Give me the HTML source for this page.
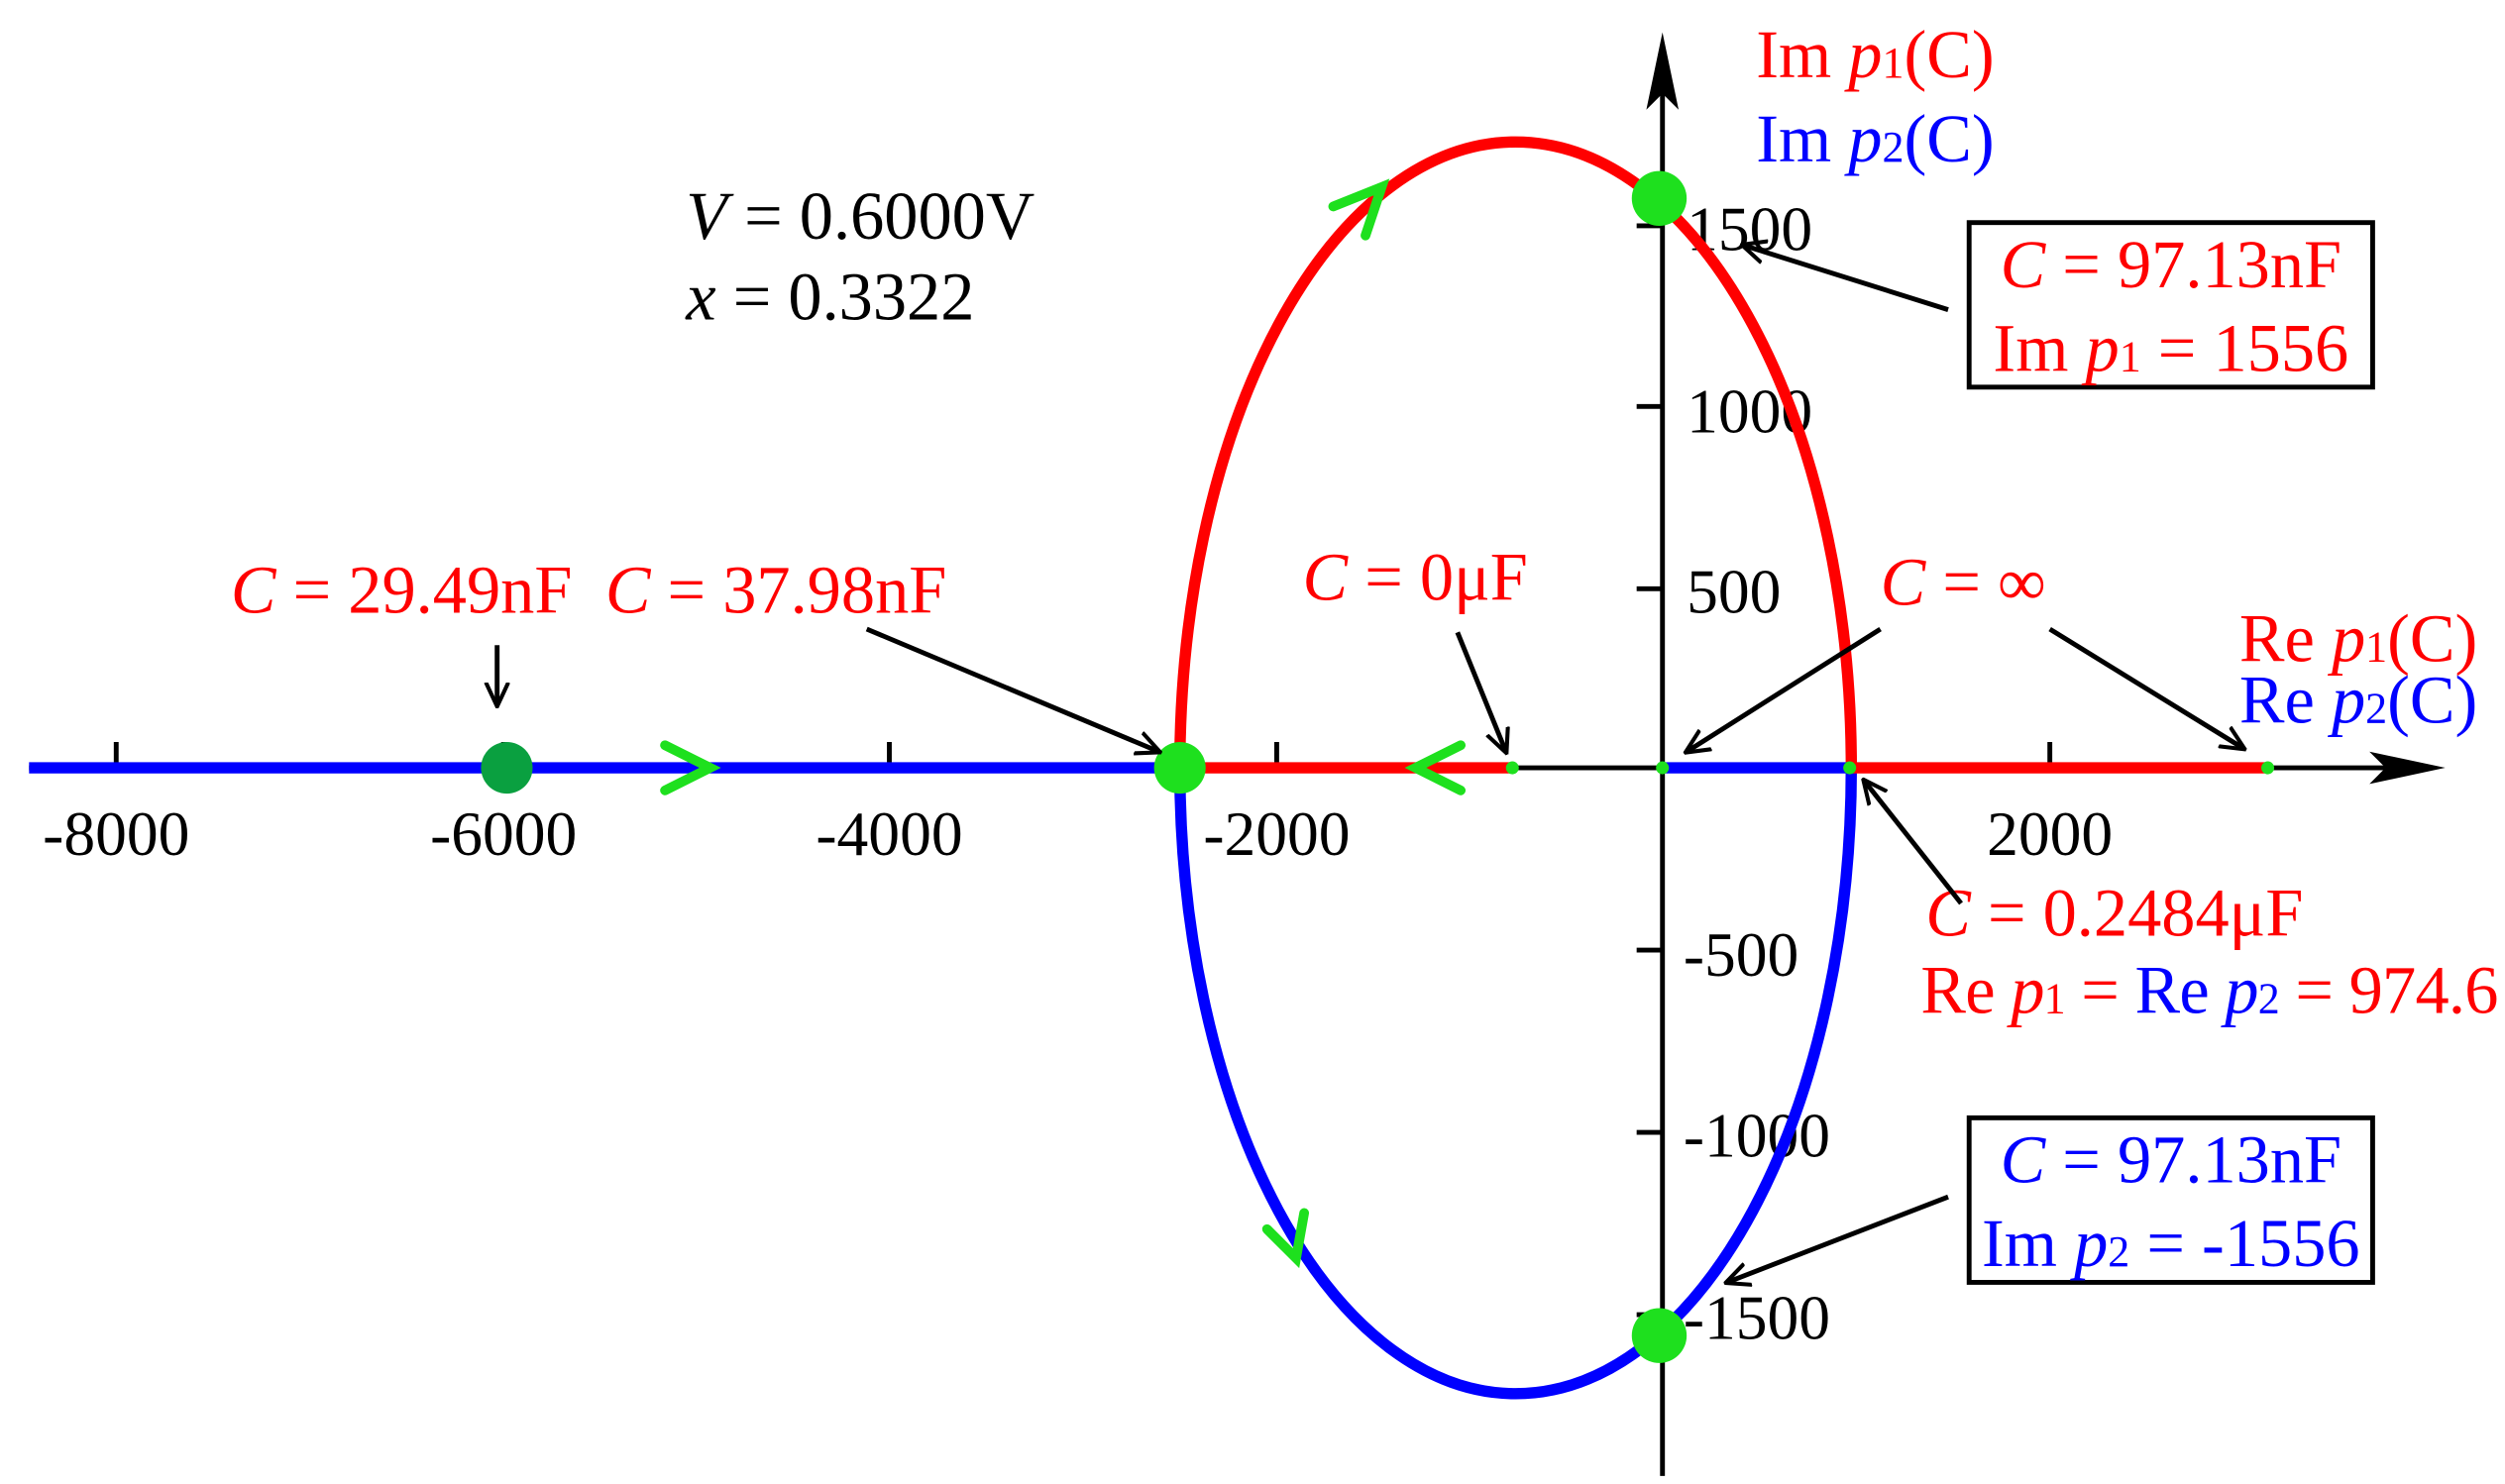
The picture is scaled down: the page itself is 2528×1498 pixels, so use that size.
<!DOCTYPE html>
<html><head><meta charset="utf-8"><style>html,body{margin:0;padding:0;background:#fff}svg{display:block}</style></head>
<body>
<svg width="2528" height="1498" viewBox="0 0 1552 920" preserveAspectRatio="none" xmlns="http://www.w3.org/2000/svg" font-family="'Liberation Serif', serif">
<defs>
<marker id="ah" markerWidth="16" markerHeight="16" refX="14" refY="8" orient="auto" markerUnits="userSpaceOnUse"><path d="M0,1 L15,8 L0,15" fill="none" stroke="#000" stroke-width="2.5"/></marker>
</defs>
<line x1="18" y1="476" x2="1480" y2="476" stroke="#000" stroke-width="3"/>
<path d="M1468,466 L1515,476 L1468,486 L1478,476 Z" fill="#000"/>
<line x1="1030" y1="915" x2="1030" y2="55" stroke="#000" stroke-width="3"/>
<path d="M1020,68 L1030,20 L1040,68 L1030,58 Z" fill="#000"/>
<g stroke="#000" stroke-width="3">
<line x1="72" y1="460" x2="72" y2="476"/><line x1="312" y1="460" x2="312" y2="476"/><line x1="551" y1="460" x2="551" y2="476"/><line x1="791" y1="460" x2="791" y2="476"/><line x1="1270" y1="460" x2="1270" y2="476"/>
<line x1="1014" y1="140" x2="1030" y2="140"/><line x1="1014" y1="252" x2="1030" y2="252"/><line x1="1014" y1="365" x2="1030" y2="365"/><line x1="1014" y1="589" x2="1030" y2="589"/><line x1="1014" y1="702" x2="1030" y2="702"/><line x1="1014" y1="815" x2="1030" y2="815"/>
</g>
<g font-size="39" fill="#000" text-anchor="middle">
<text x="72" y="530">-8000</text><text x="312" y="530">-6000</text><text x="551" y="530">-4000</text><text x="791" y="530">-2000</text><text x="1270" y="530">2000</text>
</g>
<g font-size="39" fill="#000">
<text x="1045" y="155">1500</text><text x="1045" y="268">1000</text><text x="1045" y="380">500</text><text x="1043" y="605">-500</text><text x="1043" y="717">-1000</text><text x="1043" y="830">-1500</text>
</g>
<path d="M731,476 A208,388 0 0 1 1147,476" fill="none" stroke="#f00" stroke-width="7"/>
<path d="M731,476 A208,388 0 0 0 1147,476" fill="none" stroke="#00f" stroke-width="7"/>
<line x1="18" y1="476" x2="731" y2="476" stroke="#00f" stroke-width="7"/>
<line x1="731" y1="476" x2="937" y2="476" stroke="#f00" stroke-width="7"/>
<line x1="1030" y1="476" x2="1147" y2="476" stroke="#00f" stroke-width="7"/>
<line x1="1147" y1="476" x2="1405" y2="476" stroke="#f00" stroke-width="7"/>
<circle cx="314" cy="476" r="16" fill="#0aa040"/>
<circle cx="731" cy="476" r="16" fill="#1ee01e"/>
<circle cx="1028" cy="123" r="17" fill="#1ee01e"/>
<circle cx="1028" cy="828" r="17" fill="#1ee01e"/>
<g fill="#1ee01e"><circle cx="937" cy="476" r="4"/><circle cx="1030" cy="476" r="4"/><circle cx="1146" cy="476" r="4"/><circle cx="1405" cy="476" r="4"/></g>
<g fill="none" stroke="#1ee01e" stroke-width="6" stroke-linecap="round">
<path d="M412,462 L440,476 L412,490"/>
<path d="M905,462 L877,476 L905,490"/>
<path d="M826,128 L856,116 L846,146"/>
<path d="M785,762 L803,780 L808,752"/>
</g>
<g font-size="42">
<text x="1088" y="48" fill="#f00">Im <tspan font-style="italic">p</tspan><tspan font-size="27">1</tspan>(C)</text>
<text x="1088" y="100" fill="#00f">Im <tspan font-style="italic">p</tspan><tspan font-size="27">2</tspan>(C)</text>
<text x="425" y="148" fill="#000"><tspan font-style="italic">V</tspan> = 0.6000V</text>
<text x="425" y="198" fill="#000"><tspan font-style="italic">x</tspan> = 0.3322</text>
<text x="143" y="380" fill="#f00"><tspan font-style="italic">C</tspan> = 29.49nF</text>
<text x="375" y="380" fill="#f00"><tspan font-style="italic">C</tspan> = 37.98nF</text>
<text x="807" y="372" fill="#f00"><tspan font-style="italic">C</tspan> = 0μF</text>
<text x="1165" y="375" fill="#f00"><tspan font-style="italic">C</tspan> = ∞</text>
<text x="1535" y="410" fill="#f00" text-anchor="end">Re <tspan font-style="italic">p</tspan><tspan font-size="27">1</tspan>(C)</text>
<text x="1535" y="448" fill="#00f" text-anchor="end">Re <tspan font-style="italic">p</tspan><tspan font-size="27">2</tspan>(C)</text>
<text x="1193" y="580" fill="#f00"><tspan font-style="italic">C</tspan> = 0.2484μF</text>
<text x="1190" y="628" fill="#f00" textLength="358">Re <tspan font-style="italic">p</tspan><tspan font-size="27">1</tspan> = <tspan fill="#00f">Re <tspan font-style="italic">p</tspan><tspan font-size="27">2</tspan></tspan> = 974.6</text>
</g>
<rect x="1220" y="138" width="250" height="102" fill="#fff" stroke="#000" stroke-width="3"/>
<rect x="1220" y="693" width="250" height="102" fill="#fff" stroke="#000" stroke-width="3"/>
<g font-size="42" text-anchor="middle">
<text x="1345" y="178" fill="#f00"><tspan font-style="italic">C</tspan> = 97.13nF</text>
<text x="1345" y="230" fill="#f00">Im <tspan font-style="italic">p</tspan><tspan font-size="27">1</tspan> = 1556</text>
<text x="1345" y="733" fill="#00f"><tspan font-style="italic">C</tspan> = 97.13nF</text>
<text x="1345" y="785" fill="#00f">Im <tspan font-style="italic">p</tspan><tspan font-size="27">2</tspan> = -1556</text>
</g>
<g stroke="#000" stroke-width="3" marker-end="url(#ah)">
<line x1="1207" y1="192" x2="1080" y2="152"/>
<line x1="1207" y1="742" x2="1070" y2="795"/>
<line x1="308" y1="400" x2="308" y2="437"/>
<line x1="537" y1="390" x2="718" y2="466"/>
<line x1="903" y1="392" x2="933" y2="466"/>
<line x1="1165" y1="390" x2="1045" y2="466"/>
<line x1="1270" y1="390" x2="1390" y2="464"/>
<line x1="1215" y1="560" x2="1155" y2="484"/>
</g>
</svg>
</body></html>
